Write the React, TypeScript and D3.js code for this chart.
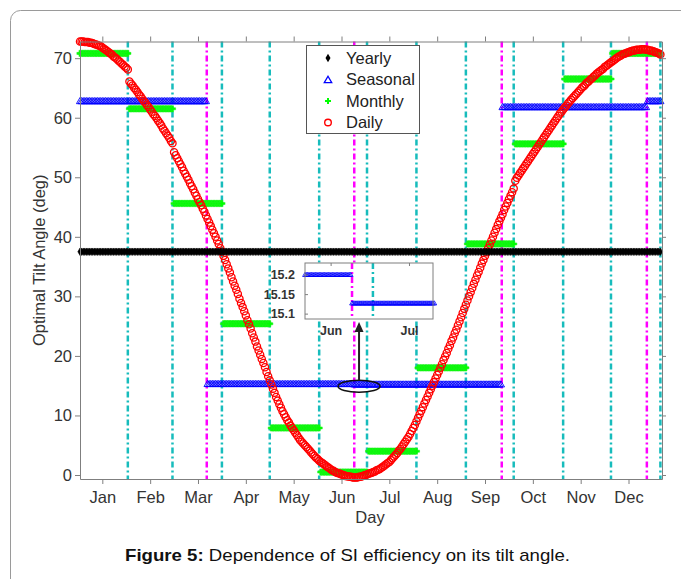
import * as d3 from 'd3';
import { useEffect, useRef } from 'react';

const width = 681;
const height = 579;
const plot = { left: 80, right: 662, top: 41.5, bottom: 479 };
const inset = { left: 305, right: 433, top: 263, bottom: 319 };

const monthNames = ['Jan', 'Feb', 'Mar', 'Apr', 'May', 'Jun', 'Jul', 'Aug', 'Sep', 'Oct', 'Nov', 'Dec'];
const monthTickDays = [15, 45, 75, 105, 135, 165, 195, 225, 255, 285, 315, 345];
const monthEndDays = [31, 59, 90, 120, 151, 181, 212, 243, 273, 304, 334, 365];
const seasonBoundaryDays = [80.5, 173, 265.5, 356.5];
const yTicks = [0, 10, 20, 30, 40, 50, 60, 70];

const yearlyTilt = 37.5;
const seasonStartDays = [1, 81, 173, 266, 357];
const seasonalTilt = [62.7, 15.2, 15.127, 61.7, 62.7];
const monthlyTilt = [70.8, 61.5, 45.6, 25.4, 7.9, 0.5, 4.0, 18.0, 38.8, 55.6, 66.5, 70.8];

// daily optimum, day 1..365
const dailyTilt = [
  72.8, 72.8, 72.8, 72.7, 72.7, 72.7, 72.6, 72.6, 72.5, 72.4, 72.3, 72.2, 72.1, 72.0, 71.8, 71.6, 71.4, 71.2, 71.0, 70.8, 70.6, 70.3, 70.1, 69.9, 69.6, 69.4, 69.1, 68.9, 68.6, 68.4, 68.1,
  66.1, 65.7, 65.4, 65.0, 64.7, 64.3, 63.9, 63.6, 63.2, 62.8, 62.5, 62.1, 61.8, 61.4, 61.0, 60.6, 60.3, 59.9, 59.5, 59.1, 58.7, 58.2, 57.8, 57.4, 57.0, 56.6, 56.1, 55.7,
  54.2, 53.7, 53.2, 52.7, 52.2, 51.7, 51.1, 50.6, 50.1, 49.6, 49.0, 48.5, 48.0, 47.4, 46.9, 46.3, 45.8, 45.3, 44.7, 44.2, 43.6, 43.0, 42.4, 41.8, 41.2, 40.6, 40.0, 39.4, 38.8, 38.1, 37.5,
  36.8, 36.1, 35.4, 34.7, 34.0, 33.2, 32.5, 31.8, 31.1, 30.4, 29.6, 28.9, 28.2, 27.5, 26.8, 26.0, 25.3, 24.6, 23.8, 23.1, 22.4, 21.6, 20.9, 20.2, 19.5, 18.8, 18.1, 17.3, 16.6, 15.9,
  15.2, 14.5, 13.8, 13.1, 12.5, 11.9, 11.3, 10.7, 10.2, 9.7, 9.2, 8.8, 8.3, 7.9, 7.5, 7.1, 6.7, 6.3, 5.9, 5.6, 5.3, 5.0, 4.7, 4.4, 4.1, 3.8, 3.5, 3.2, 2.9, 2.7, 2.4,
  2.2, 2.0, 1.8, 1.6, 1.4, 1.2, 1.0, 0.8, 0.7, 0.5, 0.4, 0.3, 0.2, 0.1, 0.0, -0.1, -0.2, -0.2, -0.3, -0.3, -0.4, -0.4, -0.4, -0.4, -0.3, -0.3, -0.2, -0.1, 0.0, 0.1,
  0.2, 0.3, 0.4, 0.5, 0.6, 0.8, 0.9, 1.0, 1.2, 1.4, 1.6, 1.8, 2.0, 2.2, 2.5, 2.8, 3.1, 3.4, 3.7, 4.1, 4.4, 4.8, 5.2, 5.6, 6.0, 6.4, 6.9, 7.4, 7.9, 8.4, 9.0,
  9.6, 10.2, 10.8, 11.4, 12.0, 12.6, 13.2, 13.8, 14.4, 15.0, 15.6, 16.2, 16.8, 17.4, 18.0, 18.6, 19.3, 19.9, 20.5, 21.2, 21.8, 22.5, 23.1, 23.8, 24.4, 25.1, 25.8, 26.5, 27.2, 27.9, 28.6,
  29.3, 30.0, 30.7, 31.4, 32.1, 32.8, 33.5, 34.1, 34.8, 35.5, 36.1, 36.8, 37.4, 38.1, 38.7, 39.4, 40.0, 40.7, 41.3, 42.0, 42.6, 43.2, 43.8, 44.5, 45.1, 45.7, 46.3, 46.9, 47.5, 48.1,
  49.4, 49.9, 50.3, 50.7, 51.1, 51.5, 51.9, 52.3, 52.7, 53.1, 53.5, 53.9, 54.3, 54.7, 55.1, 55.5, 55.9, 56.3, 56.7, 57.1, 57.5, 57.9, 58.3, 58.7, 59.1, 59.5, 59.9, 60.3, 60.7, 61.0, 61.4,
  61.7, 62.0, 62.4, 62.7, 63.0, 63.3, 63.6, 63.9, 64.2, 64.5, 64.8, 65.1, 65.3, 65.6, 65.9, 66.1, 66.4, 66.6, 66.9, 67.1, 67.4, 67.6, 67.8, 68.0, 68.2, 68.5, 68.7, 68.9, 69.1, 69.3,
  69.5, 69.7, 69.9, 70.1, 70.3, 70.4, 70.6, 70.7, 70.8, 70.9, 71.0, 71.1, 71.2, 71.3, 71.3, 71.4, 71.4, 71.4, 71.5, 71.5, 71.5, 71.4, 71.4, 71.3, 71.3, 71.2, 71.1, 71.0, 70.9, 70.8, 70.6,
];

const insetDays = [155, 204];
const insetTicks = [15.1, 15.15, 15.2];
const insetTickLabels = ['15.1', '15.15', '15.2'];
const insetMonthTicks = [165, 195];
const insetMonthNames = ['Jun', 'Jul'];
const legendLabels = ['Yearly', 'Seasonal', 'Monthly', 'Daily'];

const font = '"Liberation Sans", Arial, sans-serif';
const cyan = '#17bcbc';
const magenta = '#ff00ff';
const axisGrey = '#7f7f7f';

const monthOf = (day: number) => monthEndDays.findIndex((e) => day <= e);
const seasonOf = (day: number) => {
  let s = 0;
  seasonStartDays.forEach((start, i) => {
    if (day >= start) s = i;
  });
  return s;
};

function App() {
  const ref = useRef<SVGSVGElement>(null);

  useEffect(() => {
    const svg = d3.select(ref.current);
    svg.selectAll('*').remove();

    const days = d3.range(1, 366);
    const x = d3.scaleLinear().domain([1, 366]).range([plot.left, plot.right]);
    const y = d3.scaleLinear().domain([-0.67, 72.8]).range([plot.bottom, plot.top]);

    svg.append('rect').attr('width', width).attr('height', height).attr('fill', '#fff');
    svg
      .append('rect')
      .attr('x', 10.5)
      .attr('y', 10.5)
      .attr('width', 720)
      .attr('height', 620)
      .attr('rx', 10)
      .attr('fill', 'none')
      .attr('stroke', '#9a9a9a');

    const vlines = (g: any, vals: number[], color: string, sx: any, top: number, bottom: number) =>
      g
        .selectAll(null)
        .data(vals)
        .join('line')
        .attr('x1', (d: number) => sx(d))
        .attr('x2', (d: number) => sx(d))
        .attr('y1', top)
        .attr('y2', bottom)
        .attr('stroke', color)
        .attr('stroke-width', 2.5)
        .attr('stroke-dasharray', '6,3,2,3');

    const lines = svg.append('g');
    vlines(lines, monthEndDays, cyan, x, plot.top, plot.bottom);
    vlines(lines, seasonBoundaryDays, magenta, x, plot.top, plot.bottom);

    const tri = d3.symbol().type(d3.symbolTriangle).size(22)();
    const triSmall = d3.symbol().type(d3.symbolTriangle).size(10)();
    const cross = d3.symbol().type(d3.symbolCross).size(22)();
    const diamond = d3.symbol().type(d3.symbolDiamond).size(16)();

    svg
      .append('g')
      .selectAll('path')
      .data(days)
      .join('path')
      .attr('d', tri)
      .attr('transform', (d) => `translate(${x(d)},${y(seasonalTilt[seasonOf(d)])})`)
      .attr('fill', 'none')
      .attr('stroke', '#0000ff')
      .attr('stroke-width', 0.9);

    svg
      .append('g')
      .selectAll('path')
      .data(days)
      .join('path')
      .attr('d', cross)
      .attr('transform', (d) => `translate(${x(d)},${y(monthlyTilt[monthOf(d)])})`)
      .attr('fill', '#00ff00')
      .attr('stroke', '#22ee22')
      .attr('stroke-width', 0.5);

    svg
      .append('g')
      .selectAll('circle')
      .data(days)
      .join('circle')
      .attr('cx', (d) => x(d))
      .attr('cy', (d) => y(dailyTilt[d - 1]))
      .attr('r', 3.6)
      .attr('fill', 'none')
      .attr('stroke', '#ff0000')
      .attr('stroke-width', 1.3);

    svg
      .append('g')
      .selectAll('path')
      .data(days)
      .join('path')
      .attr('d', diamond)
      .attr('transform', (d) => `translate(${x(d)},${y(yearlyTilt)})`)
      .attr('fill', '#000')
      .attr('stroke', '#000')
      .attr('stroke-width', 0.6);

    // axes box
    const styleAxis = (g: any) => {
      g.select('.domain').attr('stroke', axisGrey);
      g.selectAll('.tick line').attr('stroke', axisGrey);
      g.selectAll('.tick text').attr('fill', '#333').attr('font-size', 16.5).attr('font-family', font);
    };
    svg
      .append('g')
      .attr('transform', `translate(${plot.left},0)`)
      .call(d3.axisLeft(y).tickValues(yTicks).tickSize(5).tickSizeOuter(0).tickPadding(3))
      .call(styleAxis);
    svg
      .append('g')
      .attr('transform', `translate(${plot.right},0)`)
      .call(d3.axisRight(y).tickValues(yTicks).tickSize(4).tickSizeOuter(0).tickFormat(() => ''))
      .call(styleAxis);
    svg
      .append('g')
      .attr('transform', `translate(0,${plot.bottom})`)
      .call(
        d3
          .axisBottom(x)
          .tickValues(monthTickDays)
          .tickSize(5)
          .tickSizeOuter(0)
          .tickPadding(7)
          .tickFormat((d, i) => monthNames[i])
      )
      .call(styleAxis);
    svg
      .append('g')
      .attr('transform', `translate(0,${plot.top})`)
      .call(d3.axisTop(x).tickValues(monthTickDays).tickSize(5).tickSizeOuter(0).tickFormat(() => ''))
      .call(styleAxis);

    svg
      .append('text')
      .attr('x', 370)
      .attr('y', 523)
      .attr('text-anchor', 'middle')
      .attr('font-family', font)
      .attr('font-size', 16.5)
      .attr('fill', '#333')
      .text('Day');
    svg
      .append('text')
      .attr('transform', `translate(45,${(plot.top + plot.bottom) / 2}) rotate(-90)`)
      .attr('text-anchor', 'middle')
      .attr('font-family', font)
      .attr('font-size', 16.5)
      .attr('fill', '#333')
      .text('Optimal Tilt Angle (deg)');

    // zoom marker
    const cx = x(176);
    svg
      .append('ellipse')
      .attr('cx', cx)
      .attr('cy', y(14.9))
      .attr('rx', 21)
      .attr('ry', 6)
      .attr('fill', 'none')
      .attr('stroke', '#111')
      .attr('stroke-width', 1.5);
    svg
      .append('line')
      .attr('x1', cx)
      .attr('x2', cx)
      .attr('y1', y(14.9) - 6)
      .attr('y2', inset.bottom + 10)
      .attr('stroke', '#222')
      .attr('stroke-width', 2);
    svg
      .append('path')
      .attr('d', `M${cx},${inset.bottom + 3} L${cx - 4.5},${inset.bottom + 13} L${cx + 4.5},${inset.bottom + 13} Z`)
      .attr('fill', '#222');

    // inset
    const ix = d3.scaleLinear().domain(insetDays).range([inset.left, inset.right]);
    const iy = d3.scaleLinear().domain([15.0875, 15.231]).range([inset.bottom, inset.top]);
    const ig = svg.append('g');
    ig.append('rect')
      .attr('x', inset.left)
      .attr('y', inset.top)
      .attr('width', inset.right - inset.left)
      .attr('height', inset.bottom - inset.top)
      .attr('fill', '#fff');
    vlines(ig, monthEndDays.filter((d) => d > insetDays[0] && d < insetDays[1]), cyan, ix, inset.top, inset.bottom);
    vlines(ig, seasonBoundaryDays.filter((d) => d > insetDays[0] && d < insetDays[1]), magenta, ix, inset.top, inset.bottom);
    const iDays = d3.range(insetDays[0], insetDays[1] + 1, 0.5);
    ig.append('g')
      .selectAll('path')
      .data(iDays)
      .join('path')
      .attr('d', triSmall)
      .attr('transform', (d) => `translate(${ix(d)},${iy(seasonalTilt[seasonOf(Math.floor(d))])})`)
      .attr('fill', 'none')
      .attr('stroke', '#0000ff')
      .attr('stroke-width', 0.8);
    ig.append('rect')
      .attr('x', inset.left)
      .attr('y', inset.top)
      .attr('width', inset.right - inset.left)
      .attr('height', inset.bottom - inset.top)
      .attr('fill', 'none')
      .attr('stroke', axisGrey);
    ig.append('g')
      .selectAll('line')
      .data(insetTicks)
      .join('line')
      .attr('x1', inset.left)
      .attr('x2', inset.left + 3)
      .attr('y1', (d) => iy(d))
      .attr('y2', (d) => iy(d))
      .attr('stroke', axisGrey);
    ig.append('g')
      .selectAll('text')
      .data(insetTicks)
      .join('text')
      .attr('x', inset.left - 10)
      .attr('y', (d) => iy(d))
      .attr('dy', '0.35em')
      .attr('text-anchor', 'end')
      .attr('font-family', font)
      .attr('font-size', 12.5)
      .attr('font-weight', 'bold')
      .attr('fill', '#333')
      .text((d, i) => insetTickLabels[i]);
    ig.append('g')
      .selectAll('line')
      .data(insetMonthTicks)
      .join('line')
      .attr('x1', (d) => ix(d))
      .attr('x2', (d) => ix(d))
      .attr('y1', inset.top)
      .attr('y2', inset.top + 3)
      .attr('stroke', axisGrey);
    ig.append('g')
      .selectAll('text')
      .data(insetMonthTicks)
      .join('text')
      .attr('x', (d) => ix(d))
      .attr('y', inset.bottom + 16)
      .attr('text-anchor', 'middle')
      .attr('font-family', font)
      .attr('font-size', 12.5)
      .attr('font-weight', 'bold')
      .attr('fill', '#333')
      .text((d, i) => insetMonthNames[i]);

    // legend
    const lg = svg.append('g');
    lg.append('rect')
      .attr('x', 306.5)
      .attr('y', 45.5)
      .attr('width', 113)
      .attr('height', 88)
      .attr('fill', '#fff')
      .attr('stroke', '#555');
    const rows = legendLabels.map((label, i) => ({ label, cy: 58 + i * 21.5 }));
    lg.selectAll('text')
      .data(rows)
      .join('text')
      .attr('x', 346)
      .attr('y', (d) => d.cy)
      .attr('dy', '0.35em')
      .attr('font-family', font)
      .attr('font-size', 16.5)
      .attr('fill', '#222')
      .text((d) => d.label);
    const mx = 328;
    lg.append('path')
      .attr('d', d3.symbol().type(d3.symbolDiamond).size(22)())
      .attr('transform', `translate(${mx},${rows[0].cy})`)
      .attr('fill', '#000');
    lg.append('path')
      .attr('d', d3.symbol().type(d3.symbolTriangle).size(24)())
      .attr('transform', `translate(${mx},${rows[1].cy + 1})`)
      .attr('fill', 'none')
      .attr('stroke', '#0000ff')
      .attr('stroke-width', 1.3);
    lg.append('path')
      .attr('d', d3.symbol().type(d3.symbolCross).size(20)())
      .attr('transform', `translate(${mx},${rows[2].cy})`)
      .attr('fill', '#00ff00');
    lg.append('circle')
      .attr('cx', mx)
      .attr('cy', rows[3].cy)
      .attr('r', 3.3)
      .attr('fill', 'none')
      .attr('stroke', '#ff0000')
      .attr('stroke-width', 1.4);

    // caption
    const cap = svg
      .append('text')
      .attr('x', 125)
      .attr('y', 561)
      .attr('textLength', 445)
      .attr('lengthAdjust', 'spacingAndGlyphs')
      .attr('font-family', font)
      .attr('font-size', 17)
      .attr('fill', '#111');
    cap.append('tspan').attr('font-weight', 'bold').text('Figure 5:');
    cap.append('tspan').text(' Dependence of SI efficiency on its tilt angle.');
  }, []);

  return (
    <div style={{ position: 'absolute', left: 0, top: 0 }}>
      <svg ref={ref} width={width} height={height} style={{ display: 'block' }} />
    </div>
  );
}

export default App;
